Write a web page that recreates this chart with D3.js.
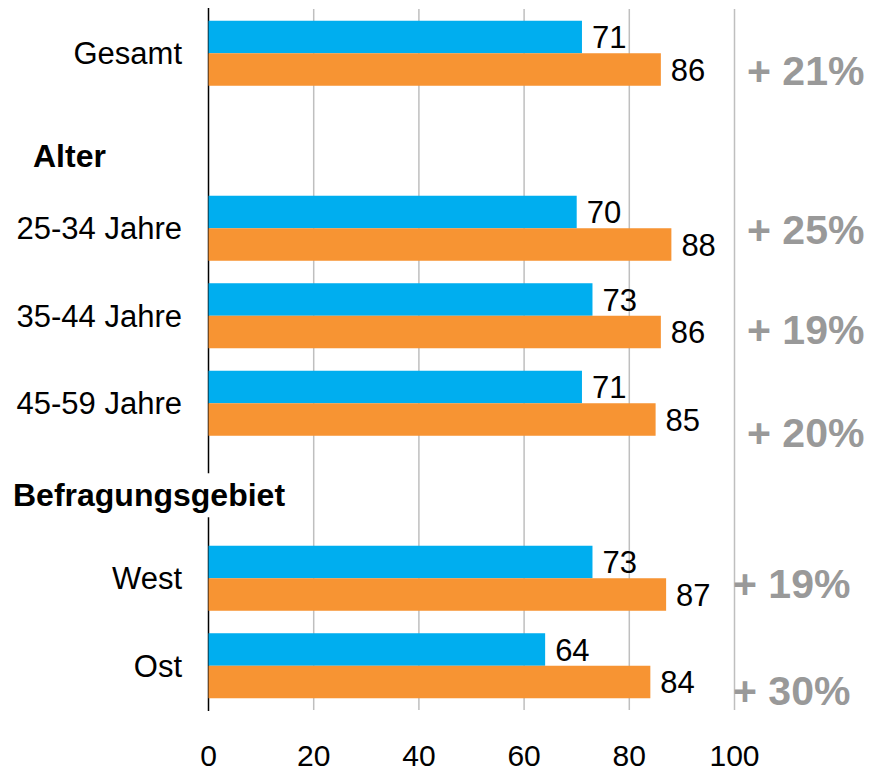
<!DOCTYPE html>
<html>
<head>
<meta charset="utf-8">
<script src="https://cdn.jsdelivr.net/npm/d3@7"></script>
<style>
  body { margin: 0; background: #fff; }
  text { font-family: "Liberation Sans", Arial, sans-serif; }
</style>
</head>
<body>
<div id="chart"></div>
<script>
// Data
const rows = ["Gesamt", "hdrAlter", "25-34 Jahre", "35-44 Jahre", "45-59 Jahre", "hdrGebiet", "West", "Ost"];
const headers = [{ key: "hdrAlter", text: "Alter" }, { key: "hdrGebiet", text: "Befragungsgebiet" }];
const groups = ["Gesamt", "25-34 Jahre", "35-44 Jahre", "45-59 Jahre", "West", "Ost"];
const valuesBlue = [71, 70, 73, 71, 73, 64];
const valuesOrange = [86, 88, 86, 85, 87, 84];
const changeLabels = ["+ 21%", "+ 25%", "+ 19%", "+ 20%", "+ 19%", "+ 30%"];
const xTicks = [0, 20, 40, 60, 80, 100];

// hand placed text boxes in the original (layout only)
const changeNudge = [{ dx: 747, dy: 17 }, { dx: 747, dy: 1 }, { dx: 747, dy: 13 }, { dx: 747, dy: 29 }, { dx: 733, dy: 5 }, { dx: 733, dy: 24 }];
const headerNudge = { hdrAlter: { x: 33, dy: 15 }, hdrGebiet: { x: 13, dy: 4 } };

const W = 870, H = 772;
const colors = { blue: "#00AEEF", orange: "#F79433" };

const svg = d3.select("#chart").append("svg")
    .attr("width", W)
    .attr("height", H);

const x = d3.scaleLinear().domain([0, 100]).range([208.5, 734.5]);

const y = d3.scaleBand()
    .domain(rows)
    .range([9.5, 709.5])
    .paddingInner(0.257)
    .paddingOuter(0.1285);

const sub = d3.scaleBand()
    .domain(["blue", "orange"])
    .range([0, y.bandwidth()]);

// gridlines
svg.append("g")
    .selectAll("line")
    .data(xTicks.slice(1))
    .join("line")
    .attr("x1", d => x(d))
    .attr("x2", d => x(d))
    .attr("y1", 9)
    .attr("y2", 710)
    .attr("stroke", "#BFBFBF")
    .attr("stroke-width", 1.5);

// bottom tick labels
svg.append("g")
    .selectAll("text")
    .data(xTicks)
    .join("text")
    .attr("x", d => x(d))
    .attr("y", 766)
    .attr("text-anchor", "middle")
    .attr("font-size", 30)
    .attr("fill", "#000")
    .text(d => d);

// value axis line (left)
svg.append("line")
    .attr("x1", x(0))
    .attr("x2", x(0))
    .attr("y1", 8)
    .attr("y2", 711)
    .attr("stroke", "#000")
    .attr("stroke-width", 1.5);

// bars
const series = [
    { key: "blue", values: valuesBlue },
    { key: "orange", values: valuesOrange }
];

series.forEach(s => {
    svg.append("g")
        .attr("fill", colors[s.key])
        .selectAll("rect")
        .data(groups)
        .join("rect")
        .attr("x", x(0))
        .attr("y", g => y(g) + sub(s.key))
        .attr("width", (g, i) => x(s.values[i]) - x(0))
        .attr("height", sub.bandwidth());

    svg.append("g")
        .selectAll("text")
        .data(groups)
        .join("text")
        .attr("x", (g, i) => x(s.values[i]) + 10)
        .attr("y", g => y(g) + sub(s.key) + sub.bandwidth() / 2)
        .attr("dy", "0.36em")
        .attr("font-size", 31)
        .attr("fill", "#000")
        .text((g, i) => s.values[i]);
});

// category labels
svg.append("g")
    .selectAll("text")
    .data(groups)
    .join("text")
    .attr("x", 182)
    .attr("y", g => y(g) + y.bandwidth() / 2)
    .attr("dy", "0.36em")
    .attr("text-anchor", "end")
    .attr("font-size", 31)
    .attr("fill", "#000")
    .text(g => g);

// section headers, white box behind them covers the axis line
headers.forEach(h => {
    const n = headerNudge[h.key];
    const hg = svg.append("g");
    const bg = hg.append("rect").attr("fill", "#fff");
    const t = hg.append("text")
        .attr("x", n.x)
        .attr("y", y(h.key) + y.bandwidth() / 2 + n.dy)
        .attr("dy", "0.36em")
        .attr("font-size", 32)
        .attr("font-weight", "bold")
        .attr("fill", "#000")
        .text(h.text);
    const bb = t.node().getBBox();
    bg.attr("x", bb.x - 4)
        .attr("y", bb.y - 4)
        .attr("width", bb.width + 8)
        .attr("height", bb.height + 8);
});

// change labels
svg.append("g")
    .selectAll("text")
    .data(groups)
    .join("text")
    .attr("x", (g, i) => changeNudge[i].dx)
    .attr("y", (g, i) => y(g) + y.bandwidth() / 2 + changeNudge[i].dy)
    .attr("dy", "0.36em")
    .attr("font-size", 41)
    .attr("font-weight", "bold")
    .attr("fill", "#999999")
    .text((g, i) => changeLabels[i]);
</script>
</body>
</html>
